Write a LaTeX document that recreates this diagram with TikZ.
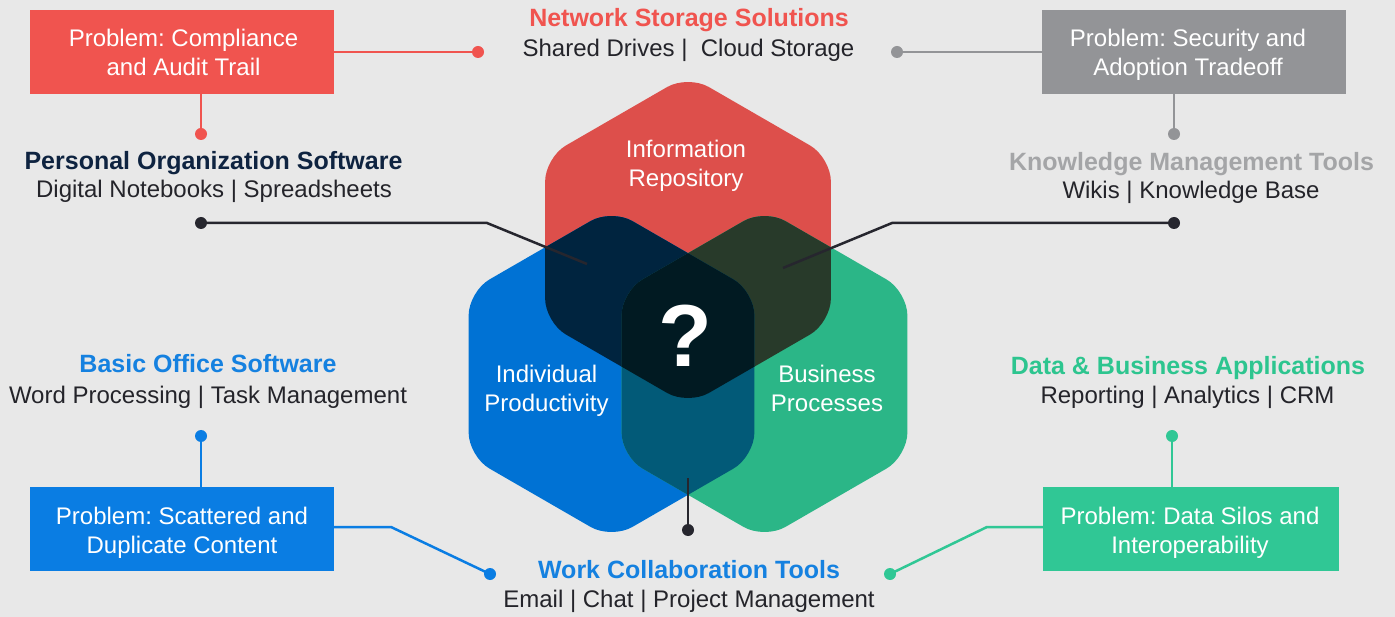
\documentclass[tikz,border=0pt]{standalone}
\usepackage{fontspec}
\setmainfont{Liberation Sans}
\usetikzlibrary{calc}
\frenchspacing
\definecolor{bg}{HTML}{E8E8E8}
\definecolor{hexR}{HTML}{DD4F4B}
\definecolor{hexB}{HTML}{0072D4}
\definecolor{hexG}{HTML}{2BB687}
\definecolor{hexRB}{HTML}{00243F}
\definecolor{hexRG}{HTML}{283A2A}
\definecolor{hexBG}{HTML}{025A78}
\definecolor{hexRBG}{HTML}{011A22}
\definecolor{cRed}{HTML}{F0544F}
\definecolor{cGray}{HTML}{939497}
\definecolor{cGrayT}{HTML}{A4A5A7}
\definecolor{cBlue}{HTML}{0A7DE3}
\definecolor{cBlueT}{HTML}{1581E0}
\definecolor{cGreen}{HTML}{30C795}
\definecolor{cGreenT}{HTML}{2DC58F}
\definecolor{cNavy}{HTML}{0E2340}
\definecolor{cText}{HTML}{24242A}
\definecolor{cDark}{HTML}{26262E}
\newcommand\hexat[1]{($(#1)+(90:165)$) -- ($(#1)+(30:165)$) -- ($(#1)+(-30:165)$) -- ($(#1)+(-90:165)$) -- ($(#1)+(-150:165)$) -- ($(#1)+(150:165)$) -- cycle}
\begin{document}
\frenchspacing
\begin{tikzpicture}[x=1pt,y=-1pt,
  title/.style={font=\fontsize{25}{30}\selectfont\bfseries\frenchspacing, anchor=base, inner sep=0},
  sub/.style={font=\fontsize{24}{29}\selectfont\frenchspacing, anchor=base, inner sep=0, text=cText},
  boxtxt/.style={font=\fontsize{24}{29}\selectfont\frenchspacing, anchor=base, inner sep=0, text=white},
  probbox/.style={minimum width=304, minimum height=84, inner sep=0},
  dotnode/.style={circle, inner sep=0, minimum size=12},
  conn/.style={line width=2.5},
  hexcorner/.style={rounded corners=24}]
\useasboundingbox (0,0) rectangle (1395,617);
\fill[bg] (0,0) rectangle (1395,617);

% hexagons
\coordinate (R) at (688,240);
\coordinate (B) at (611.5,374);
\coordinate (G) at (764.5,374);
\fill[hexR, hexcorner] \hexat{R};
\fill[hexB, hexcorner] \hexat{B};
\fill[hexG, hexcorner] \hexat{G};
\begin{scope}
  \clip[hexcorner] \hexat{R};
  \fill[hexRB, hexcorner] \hexat{B};
  \fill[hexRG, hexcorner] \hexat{G};
\end{scope}
\begin{scope}
  \clip[hexcorner] \hexat{B};
  \fill[hexBG, hexcorner] \hexat{G};
\end{scope}
\begin{scope}
  \clip[hexcorner] \hexat{R};
  \clip[hexcorner] \hexat{B};
  \fill[hexRBG, hexcorner] \hexat{G};
\end{scope}

% hexagon labels
\node[boxtxt] (ir1) at (686,158) {Information};
\node[boxtxt] (ir2) at (686,187) {Repository};
\node[boxtxt] (ip1) at (546.5,383) {Individual};
\node[boxtxt] (ip2) at (546.5,412) {Productivity};
\node[boxtxt] (bp1) at (827,383) {Business};
\node[boxtxt] (bp2) at (827,412) {Processes};
\node[anchor=base, inner sep=0, text=white, font=\fontsize{88}{92}\selectfont\bfseries] (qm) at (685,367) {?};

% problem boxes
\node[probbox, fill=cRed] (pbR) at (182,52) {};
\node[boxtxt] (pbR1) at (183.5,47) {Problem: Compliance};
\node[boxtxt] (pbR2) at (183.5,76) {and Audit Trail};
\node[probbox, fill=cGray] (pbG) at (1194,52) {};
\node[boxtxt] (pbG1) at (1188,47) {Problem: Security and};
\node[boxtxt] (pbG2) at (1188,76) {Adoption Tradeoff};
\node[probbox, fill=cBlue] (pbB) at (182,529) {};
\node[boxtxt] (pbB1) at (182,524) {Problem: Scattered and};
\node[boxtxt] (pbB2) at (182,553) {Duplicate Content};
\node[probbox, fill=cGreen, minimum width=296] (pbN) at (1191,529) {};
\node[boxtxt] (pbN1) at (1190,524) {Problem: Data Silos and};
\node[boxtxt] (pbN2) at (1190,553) {Interoperability};

% titles
\node[title, text=cRed] (nss) at (689,27) {Network Storage Solutions};
\node[sub] (nssS) at (688.5,57) {Shared Drives |\ \ Cloud Storage};
\node[title, text=cNavy] (pos) at (213.5,170) {Personal Organization Software};
\node[sub] (posS) at (214,198) {Digital Notebooks | Spreadsheets};
\node[title, text=cGrayT] (kmt) at (1191.5,171) {Knowledge Management Tools};
\node[sub] (kmtS) at (1191,199) {Wikis | Knowledge Base};
\node[title, text=cBlueT] (bos) at (208,373) {Basic Office Software};
\node[sub] (bosS) at (208,403) {Word Processing | Task Management};
\node[title, text=cGreenT] (dba) at (1188,375) {Data \& Business Applications};
\node[sub] (dbaS) at (1187.5,404) {Reporting | Analytics | CRM};
\node[title, text=cBlueT] (wct) at (689,578) {Work Collaboration Tools};
\node[sub] (wctS) at (689,607) {Email | Chat | Project Management};

% dots
\node[dotnode, fill=cRed] (dR1) at (478,52) {};
\node[dotnode, fill=cRed] (dR2) at (201,134) {};
\node[dotnode, fill=cGray] (dG1) at (897,52) {};
\node[dotnode, fill=cGray] (dG2) at (1174,134) {};
\node[dotnode, fill=cDark] (dD1) at (201,223) {};
\node[dotnode, fill=cDark] (dD2) at (1174,223) {};
\node[dotnode, fill=cDark] (dD3) at (688,530) {};
\node[dotnode, fill=cBlue] (dB1) at (201,436) {};
\node[dotnode, fill=cBlue] (dB2) at (490,574) {};
\node[dotnode, fill=cGreen] (dN1) at (1172,436) {};
\node[dotnode, fill=cGreen] (dN2) at (890,574) {};

% free ends inside hexagons
\coordinate (eL) at (587,264);
\coordinate (eR) at (783,268);
\coordinate (eB) at (688,478);

% connectors
\draw[conn, cRed] (pbR.east) -- (dR1.center);
\draw[conn, cRed] (pbR.south -| dR2) -- (dR2.center);
\draw[conn, cGray] (pbG.west) -- (dG1.center);
\draw[conn, cGray] (pbG.south -| dG2) -- (dG2.center);
\draw[conn, cDark] (dD1.center) -- (487,223) -- (eL);
\draw[conn, cDark] (dD2.center) -- (892,223) -- (eR);
\draw[conn, cDark] (eB) -- (dD3.center);
\draw[conn, cBlue] (pbB.north -| dB1) -- (dB1.center);
\draw[conn, cBlue] (pbB.east |- 0,527) -- (391,527) -- (dB2.center);
\draw[conn, cGreen] (pbN.north -| dN1) -- (dN1.center);
\draw[conn, cGreen] (pbN.west |- 0,527) -- (987,527) -- (dN2.center);
\end{tikzpicture}
\end{document}
